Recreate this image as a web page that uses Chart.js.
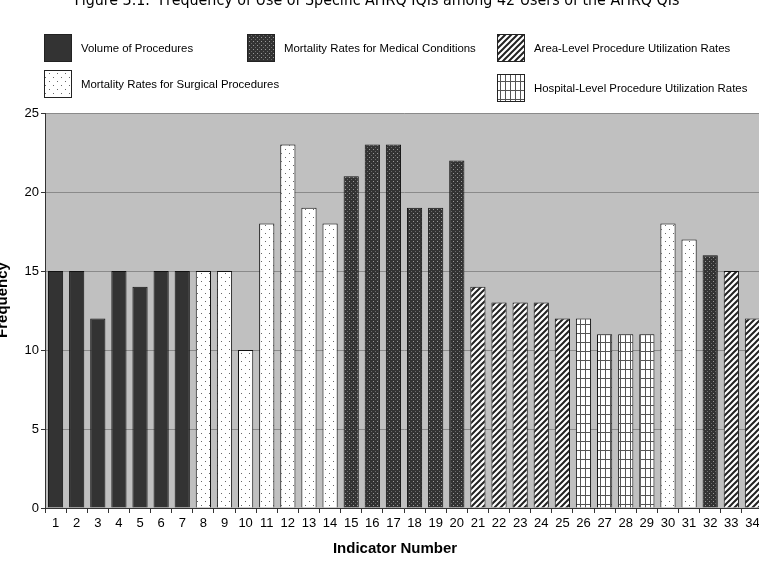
<!DOCTYPE html>
<html>
<head>
<meta charset="utf-8">
<script src="https://cdn.jsdelivr.net/npm/chart.js@4/dist/chart.umd.min.js"></script>
<style>
  html, body { margin: 0; padding: 0; background: #fff; overflow: hidden; }
  #wrap { width: 763px; height: 563px; }
</style>
</head>
<body>
<div id="wrap"><canvas id="freq-chart" width="763" height="563"></canvas></div>
<script>
// indicator numbers along the x axis
const labels = ['1','2','3','4','5','6','7','8','9','10','11','12','13','14','15','16','17',
  '18','19','20','21','22','23','24','25','26','27','28','29','30','31','32','33','34'];
// number of users for each indicator
const frequency = [15, 15, 12, 15, 14, 15, 15, 15, 15, 10, 18, 23, 19, 18, 21, 23, 23,
  19, 19, 22, 14, 13, 13, 13, 12, 12, 11, 11, 11, 18, 17, 16, 15, 12];
// group of each indicator (index in groupNames)
const groupOf = [0, 0, 0, 0, 0, 0, 0, 1, 1, 1, 1, 1, 1, 1, 2, 2, 2,
  2, 2, 2, 3, 3, 3, 3, 3, 4, 4, 4, 4, 1, 1, 2, 3, 3];
const groupNames = [
  'Volume of Procedures',
  'Mortality Rates for Surgical Procedures',
  'Mortality Rates for Medical Conditions',
  'Area-Level Procedure Utilization Rates',
  'Hospital-Level Procedure Utilization Rates'
];
const yTicks = [0, 5, 10, 15, 20, 25];

// fill patterns for the groups
function makePattern(kind) {
  const c = document.createElement('canvas');
  const g = c.getContext('2d');
  if (kind === 0) {
    c.width = 4; c.height = 4;
    g.fillStyle = '#333333'; g.fillRect(0, 0, 4, 4);
  } else if (kind === 1) {
    c.width = 8; c.height = 8;
    g.fillStyle = '#ffffff'; g.fillRect(0, 0, 8, 8);
    g.fillStyle = '#666666';
    g.fillRect(1, 1, 1, 1);
    g.fillRect(5, 5, 1, 1);
  } else if (kind === 2) {
    c.width = 4; c.height = 4;
    g.fillStyle = '#333333'; g.fillRect(0, 0, 4, 4);
    g.fillStyle = '#9a9a9a';
    g.fillRect(1, 1, 1, 1);
    g.fillStyle = '#6a6a6a';
    g.fillRect(3, 3, 1, 1);
  } else if (kind === 3) {
    c.width = 6; c.height = 6;
    g.fillStyle = '#ffffff'; g.fillRect(0, 0, 6, 6);
    g.strokeStyle = '#222222'; g.lineWidth = 2;
    g.beginPath();
    g.moveTo(-1, 7); g.lineTo(7, -1);
    g.moveTo(-1, 1); g.lineTo(1, -1);
    g.moveTo(5, 7); g.lineTo(7, 5);
    g.stroke();
  } else {
    c.width = 5; c.height = 9;
    g.fillStyle = '#ffffff'; g.fillRect(0, 0, 5, 9);
    g.fillStyle = '#555555';
    g.fillRect(0, 0, 1, 9);
    g.fillRect(0, 0, 5, 1);
  }
  return g.createPattern(c, 'repeat');
}
const patterns = [0, 1, 2, 3, 4].map(makePattern);

// gray plot background
const plotBg = {
  id: 'plotBg',
  beforeDraw(chart) {
    const a = chart.chartArea, ctx = chart.ctx;
    ctx.save();
    ctx.fillStyle = '#c0c0c0';
    ctx.fillRect(a.left, a.top, a.right - a.left, a.bottom - a.top);
    ctx.restore();
  }
};

// title, axis titles and legend
const extras = {
  id: 'extras',
  afterDraw(chart) {
    const ctx = chart.ctx;
    ctx.save();
    ctx.fillStyle = '#000';
    ctx.font = '16px "DejaVu Sans"';
    ctx.textAlign = 'center';
    ctx.textBaseline = 'alphabetic';
    ctx.fillText('Figure 3.1.  Frequency of Use of Specific AHRQ IQIs among 42 Users of the AHRQ QIs', 377, 5, 605);

    ctx.textBaseline = 'middle';
    ctx.font = 'bold 15px "Liberation Sans", Arial';
    ctx.fillText('Indicator Number', 395, 549);
    ctx.save();
    ctx.translate(3, 300);
    ctx.rotate(-Math.PI / 2);
    ctx.fillText('Frequency', 0, 0);
    ctx.restore();

    // legend: [group, box x, box y]
    const items = [
      [0, 44, 34], [2, 247, 34], [3, 497, 34],
      [1, 44, 70], [4, 497, 74]
    ];
    ctx.font = '11.4px "Liberation Sans", Arial';
    ctx.textAlign = 'left';
    items.forEach(function (it) {
      const x = it[1], y = it[2];
      ctx.fillStyle = patterns[it[0]];
      ctx.fillRect(x, y, 28, 28);
      ctx.strokeStyle = '#222';
      ctx.lineWidth = 1;
      ctx.strokeRect(x + 0.5, y + 0.5, 27, 27);
      ctx.fillStyle = '#000';
      ctx.fillText(groupNames[it[0]], x + 37, y + 15);
    });
    ctx.restore();
  }
};

const ctx = document.getElementById('freq-chart').getContext('2d');
const freqChart = new Chart(ctx, {
  type: 'bar',
  data: {
    labels: labels,
    datasets: [{
      label: 'Frequency',
      data: frequency,
      backgroundColor: groupOf.map(g => patterns[g]),
      borderColor: '#111111',
      borderWidth: 1,
      barPercentage: 0.72,
      categoryPercentage: 1.0
    }]
  },
  options: {
    responsive: false,
    animation: false,
    layout: { padding: { top: 113, left: 0, right: 0, bottom: 0 } },
    plugins: {
      legend: { display: false },
      title: { display: false },
      tooltip: { enabled: false }
    },
    scales: {
      x: {
        afterFit(s) { s.height = 55; },
        grid: { drawOnChartArea: false, drawTicks: true, tickLength: 5, color: '#333', offset: true },
        border: { color: '#333', width: 1 },
        ticks: { color: '#000', font: { size: 13, family: '"Liberation Sans", Arial' }, padding: 3, maxRotation: 0, autoSkip: false }
      },
      y: {
        min: yTicks[0],
        max: yTicks[yTicks.length - 1],
        afterFit(s) { s.width = 45; },
        afterBuildTicks(s) { s.ticks = yTicks.map(v => ({ value: v })); },
        grid: { color: '#8a8a8a', tickColor: '#333', tickLength: 4 },
        border: { color: '#333', width: 1 },
        ticks: { color: '#000', font: { size: 13, family: '"Liberation Sans", Arial' }, padding: 2 }
      }
    }
  },
  plugins: [plotBg, extras]
});
</script>
</body>
</html>
